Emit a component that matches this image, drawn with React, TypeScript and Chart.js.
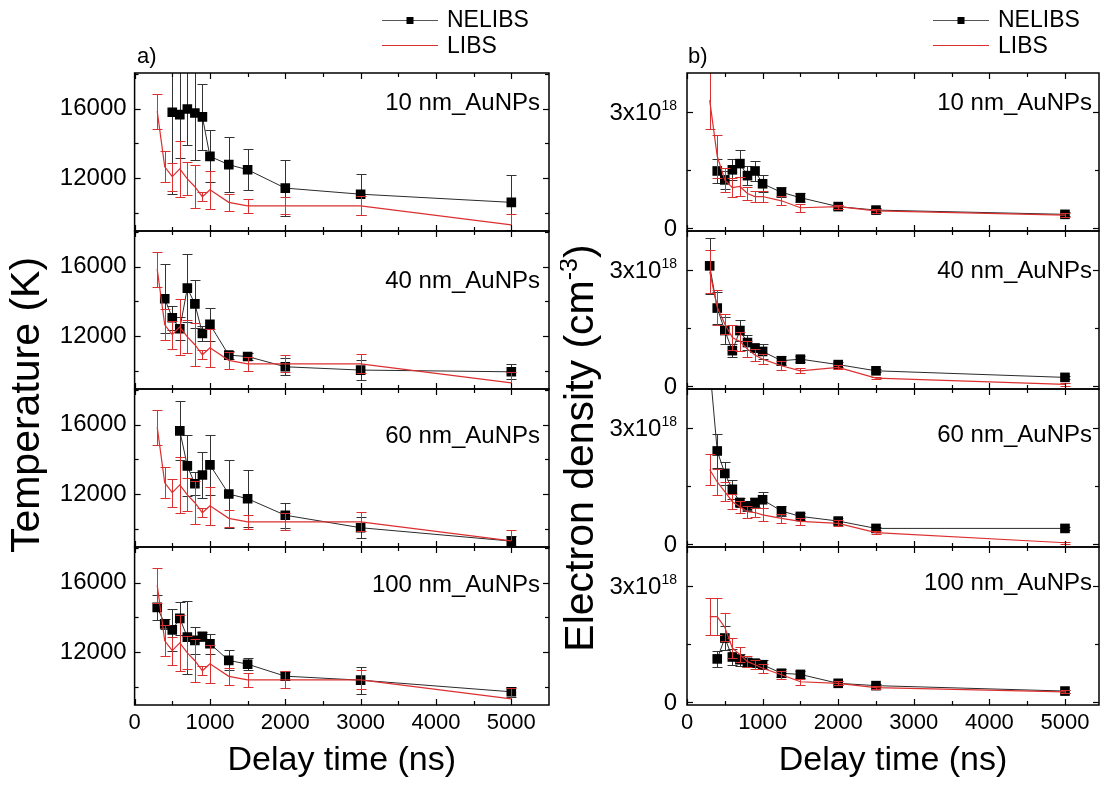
import React, { useEffect, useRef } from "react";
import { Chart, registerables } from "chart.js";

Chart.register(...registerables);

const FONT = "'Liberation Sans', Arial, Helvetica, sans-serif";
const RED = "#dc2f2f";
const DARK = "#2a2a2a";

// ---------- shared axis ticks ----------
const xTicks = [0, 1000, 2000, 3000, 4000, 5000];
const xMinorTicks = [500, 1500, 2500, 3500, 4500];
const tempTicks = [12000, 16000];
const tempMinorTicks = [10000, 14000, 18000];
const densTicks = [0, 3];
const densMinorTicks = [1.5];
const panelLabels = ["10 nm_AuNPs", "40 nm_AuNPs", "60 nm_AuNPs", "100 nm_AuNPs"];

// ---------- a) Temperature (K) ----------
const tLibsTime = [300, 400, 500, 600, 700, 800, 900, 1000, 1250, 1500, 2000, 3000, 5000];
const tLibs = [15850, 12650, 12080, 12530, 11950, 11500, 10920, 11320, 10600, 10400, 10400, 10400, 9300];
const tLibsErr = [1000, 900, 800, 1600, 950, 1250, 250, 1100, 500, 400, 480, 550, 650];

const t10Time = [500, 600, 700, 800, 900, 1000, 1250, 1500, 2000, 3000, 5000];
const t10 = [15790, 15650, 15980, 15750, 15520, 13250, 12770, 12480, 11420, 11070, 10600];
const t10Err = [4700, 2500, 2100, 2700, 1920, 1500, 1600, 1190, 1630, 1170, 1600];

const t40Time = [400, 500, 600, 700, 800, 900, 1000, 1250, 1500, 2000, 3000, 5000];
const t40 = [14150, 13050, 12420, 14760, 13850, 12150, 12670, 10900, 10820, 10230, 10040, 9940];
const t40Err = [2000, 690, 660, 1950, 1380, 450, 950, 250, 200, 480, 600, 430];

const t60Time = [600, 700, 800, 900, 1000, 1250, 1500, 2000, 3000, 5000];
const t60 = [15640, 13620, 12590, 13100, 13680, 12000, 11730, 10780, 10060, 9290];
const t60Err = [1700, 1760, 670, 1330, 1740, 1950, 1650, 720, 600, 300];

const t100Time = [300, 400, 500, 600, 700, 800, 900, 1000, 1250, 1500, 2000, 3000, 5000];
const t100 = [14570, 13620, 13280, 13940, 12860, 12670, 12900, 12480, 11520, 11300, 10610, 10380, 9710];
const t100Err = [700, 300, 1200, 950, 2100, 800, 270, 570, 570, 330, 240, 780, 290];

// ---------- b) Electron density (x10^18 cm^-3) ----------
const nTime = [300, 400, 500, 600, 700, 800, 900, 1000, 1250, 1500, 2000, 2500, 5000];
const nTimeLate = [400, 500, 600, 700, 800, 900, 1000, 1250, 1500, 2000, 2500, 5000];

const n10 = [1.47, 1.24, 1.5, 1.66, 1.35, 1.47, 1.14, 0.92, 0.78, 0.55, 0.46, 0.35];
const n10Err = [0.3, 0.23, 0.27, 0.34, 0.25, 0.27, 0.22, 0.13, 0.12, 0.05, 0.05, 0.05];
const n10Libs = [3.3, 1.85, 1.24, 1.04, 1.07, 0.89, 0.81, 0.81, 0.7, 0.52, 0.55, 0.44, 0.33];
const n10LibsErr = [0.75, 0.55, 0.3, 0.25, 0.25, 0.17, 0.15, 0.15, 0.12, 0.1, 0.05, 0.05, 0.05];

const n40 = [3.1, 2.01, 1.43, 0.91, 1.43, 1.12, 0.98, 0.89, 0.65, 0.69, 0.55, 0.39, 0.22];
const n40Err = [0.73, 0.41, 0.35, 0.17, 0.27, 0.2, 0.1, 0.2, 0.12, 0.08, 0.06, 0.04, 0.04];
const n40Libs = [2.95, 2.03, 1.6, 1.25, 1.15, 0.95, 0.8, 0.69, 0.52, 0.39, 0.48, 0.2, 0.04];
const n40LibsErr = [0.55, 0.45, 0.26, 0.33, 0.25, 0.2, 0.15, 0.13, 0.12, 0.06, 0.05, 0.03, 0.03];

const n60 = [4.6, 2.4, 1.82, 1.41, 1.07, 0.98, 1.07, 1.14, 0.85, 0.71, 0.59, 0.4, 0.4];
const n60Err = [0.5, 0.45, 0.3, 0.25, 0.12, 0.12, 0.12, 0.2, 0.12, 0.1, 0.07, 0.04, 0.04];
const n60Libs = [1.92, 1.6, 1.35, 1.09, 0.96, 0.83, 0.81, 0.75, 0.66, 0.58, 0.53, 0.29, 0.03];
const n60LibsErr = [0.4, 0.33, 0.25, 0.2, 0.15, 0.15, 0.12, 0.17, 0.12, 0.1, 0.08, 0.04, 0.03];

const n100 = [1.11, 1.65, 1.16, 1.09, 1.02, 1.0, 0.96, 0.74, 0.71, 0.48, 0.42, 0.28];
const n100Err = [0.2, 0.3, 0.2, 0.15, 0.12, 0.1, 0.12, 0.1, 0.1, 0.05, 0.04, 0.04];
const n100Libs = [2.2, 2.2, 1.93, 1.39, 1.22, 1.04, 0.96, 0.87, 0.7, 0.52, 0.48, 0.37, 0.26];
const n100LibsErr = [0.48, 0.48, 0.37, 0.26, 0.2, 0.15, 0.12, 0.12, 0.1, 0.08, 0.05, 0.04, 0.04];

// ---------- specs ----------
const leftSpec = {
  xMax: 5500,
  yMin: 8950,
  yMax: 18050,
  yTicks: tempTicks,
  yMinor: tempMinorTicks,
  yAxisWidth: 134.6,
  padRight: 11,
  nativeYLabels: true,
  letter: "a)",
  letterX: 137,
  labelRight: 540,
  labelDy: [37, 57, 54, 45],
  legend: { x1: 382, x2: 438, sq: 410, textX: 447, y1: 20, y2: 45 },
  yTitle: { x: 28, y: 405, text: "Temperature (K)", sup: "", tail: "" },
  rows: [
    { nelTime: t10Time, nel: t10, nelErr: t10Err, libsTime: tLibsTime, libs: tLibs, libsErr: tLibsErr },
    { nelTime: t40Time, nel: t40, nelErr: t40Err, libsTime: tLibsTime, libs: tLibs, libsErr: tLibsErr },
    { nelTime: t60Time, nel: t60, nelErr: t60Err, libsTime: tLibsTime, libs: tLibs, libsErr: tLibsErr },
    { nelTime: t100Time, nel: t100, nelErr: t100Err, libsTime: tLibsTime, libs: tLibs, libsErr: tLibsErr },
  ],
};

const rightSpec = {
  xMax: 5450,
  yMin: -0.08,
  yMax: 4.0,
  yTicks: densTicks,
  yMinor: densMinorTicks,
  yAxisWidth: 127,
  padRight: 12,
  nativeYLabels: false,
  letter: "b)",
  letterX: 128,
  labelRight: 532,
  labelDy: [37, 47, 53, 43],
  legend: { x1: 373, x2: 429, sq: 401, textX: 438, y1: 20, y2: 45 },
  yTitle: { x: 22, y: 448, text: "Electron density (cm", sup: "-3", tail: ")" },
  rows: [
    { nelTime: nTimeLate, nel: n10, nelErr: n10Err, libsTime: nTime, libs: n10Libs, libsErr: n10LibsErr },
    { nelTime: nTime, nel: n40, nelErr: n40Err, libsTime: nTime, libs: n40Libs, libsErr: n40LibsErr },
    { nelTime: nTime, nel: n60, nelErr: n60Err, libsTime: nTime, libs: n60Libs, libsErr: n60LibsErr },
    { nelTime: nTimeLate, nel: n100, nelErr: n100Err, libsTime: nTime, libs: n100Libs, libsErr: n100LibsErr },
  ],
};

const toXY = (xs: number[], ys: number[]) => xs.map((x, i) => ({ x, y: ys[i] }));

// ---------- plugins ----------
const errorBarPlugin = {
  id: "errorBars",
  beforeDatasetDraw(chart: any, args: any) {
    const ds = chart.data.datasets[args.index];
    const errs: number[] | undefined = ds.errorBars;
    if (!errs) return;
    const meta = args.meta;
    const xs = meta.xScale;
    const ys = meta.yScale;
    const a = chart.chartArea;
    const ctx = chart.ctx;
    ctx.save();
    ctx.beginPath();
    ctx.rect(a.left, ys.top, a.right - a.left, ys.bottom - ys.top);
    ctx.clip();
    ctx.strokeStyle = ds.errorColor;
    ctx.lineWidth = 1;
    const cap = 5;
    ds.data.forEach((p: any, i: number) => {
      const e = errs[i];
      const x = Math.round(xs.getPixelForValue(p.x)) + 0.5;
      const y1 = Math.round(ys.getPixelForValue(p.y + e)) + 0.5;
      const y2 = Math.round(ys.getPixelForValue(p.y - e)) + 0.5;
      ctx.beginPath();
      ctx.moveTo(x, y1);
      ctx.lineTo(x, y2);
      ctx.moveTo(x - cap, y1);
      ctx.lineTo(x + cap, y1);
      ctx.moveTo(x - cap, y2);
      ctx.lineTo(x + cap, y2);
      ctx.stroke();
    });
    ctx.restore();
  },
};

function makeDecoPlugin(spec: any) {
  return {
    id: "deco",
    afterDatasetsDraw(chart: any) {
      const ctx = chart.ctx;
      const a = chart.chartArea;
      const xs = chart.scales.x;
      ctx.save();
      const line = (x1: number, y1: number, x2: number, y2: number) => {
        ctx.beginPath();
        ctx.moveTo(x1, y1);
        ctx.lineTo(x2, y2);
        ctx.stroke();
      };
      spec.rows.forEach((row: any, k: number) => {
        const ys = chart.scales["y" + k];
        const top = ys.top;
        const bot = ys.bottom;
        ctx.strokeStyle = "#000";
        ctx.lineWidth = 1.2;
        xTicks.forEach((v) => {
          const x = Math.round(xs.getPixelForValue(v)) + 0.5;
          line(x, bot, x, bot - 6);
          line(x, top, x, top + 6);
        });
        xMinorTicks.forEach((v) => {
          if (v > spec.xMax) return;
          const x = Math.round(xs.getPixelForValue(v)) + 0.5;
          line(x, bot, x, bot - 4);
          line(x, top, x, top + 4);
        });
        spec.yTicks.forEach((v: number) => {
          const y = Math.round(ys.getPixelForValue(v)) + 0.5;
          if (y < top || y > bot) return;
          line(a.left, y, a.left + 6, y);
          line(a.right, y, a.right - 6, y);
        });
        spec.yMinor.forEach((v: number) => {
          const y = Math.round(ys.getPixelForValue(v)) + 0.5;
          if (y < top + 1 || y > bot - 1) return;
          line(a.left, y, a.left + 4, y);
          line(a.right, y, a.right - 4, y);
        });
        ctx.lineWidth = 1.5;
        ctx.strokeRect(a.left, top, a.right - a.left, bot - top);

        ctx.fillStyle = "#000";
        ctx.font = `24px ${FONT}`;
        ctx.textAlign = "right";
        ctx.textBaseline = "alphabetic";
        ctx.fillText(panelLabels[k], spec.labelRight, top + spec.labelDy[k]);

        if (!spec.nativeYLabels) {
          const lx = a.left - 10;
          spec.yTicks.forEach((v: number) => {
            const y = ys.getPixelForValue(v);
            if (v === 0) {
              ctx.font = `24px ${FONT}`;
              ctx.textAlign = "right";
              ctx.textBaseline = "middle";
              ctx.fillText("0", lx, y + 1);
            } else {
              ctx.font = `14px ${FONT}`;
              const supW = ctx.measureText("18").width;
              ctx.font = `24px ${FONT}`;
              ctx.textAlign = "right";
              ctx.textBaseline = "middle";
              ctx.fillText(`${v}x10`, lx - supW, y + 2);
              ctx.font = `14px ${FONT}`;
              ctx.textBaseline = "alphabetic";
              ctx.fillText("18", lx, y - 2);
            }
          });
        }
      });

      // legend
      const L = spec.legend;
      ctx.lineWidth = 1;
      ctx.strokeStyle = "#555";
      line(L.x1, L.y1 + 0.5, L.x2, L.y1 + 0.5);
      ctx.fillStyle = "#000";
      ctx.fillRect(L.sq - 3.5, L.y1 - 3, 7, 7);
      ctx.strokeStyle = RED;
      line(L.x1, L.y2 + 0.5, L.x2, L.y2 + 0.5);
      ctx.font = `23px ${FONT}`;
      ctx.textAlign = "left";
      ctx.textBaseline = "middle";
      ctx.fillText("NELIBS", L.textX, L.y1 + 1);
      ctx.fillText("LIBS", L.textX, L.y2 + 2);

      // panel letter
      ctx.font = `22px ${FONT}`;
      ctx.fillText(spec.letter, spec.letterX, 57);

      // y title
      const T = spec.yTitle;
      ctx.save();
      ctx.translate(T.x, T.y);
      ctx.rotate(-Math.PI / 2);
      ctx.font = `41px ${FONT}`;
      const w1 = ctx.measureText(T.text).width;
      const w3 = ctx.measureText(T.tail).width;
      ctx.font = `25px ${FONT}`;
      const w2 = T.sup ? ctx.measureText(T.sup).width : 0;
      const total = w1 + w2 + w3;
      let px = -total / 2;
      ctx.textAlign = "left";
      ctx.textBaseline = "middle";
      ctx.font = `41px ${FONT}`;
      ctx.fillText(T.text, px, 0);
      px += w1;
      if (T.sup) {
        ctx.font = `25px ${FONT}`;
        ctx.fillText(T.sup, px, -12);
        px += w2;
        ctx.font = `41px ${FONT}`;
        ctx.fillText(T.tail, px, 0);
      }
      ctx.restore();
      ctx.restore();
    },
  };
}

function buildConfig(spec: any): any {
  const scales: any = {
    x: {
      type: "linear",
      position: "bottom",
      min: 0,
      max: spec.xMax,
      grid: { display: false, drawTicks: false },
      border: { display: false },
      ticks: {
        font: { family: FONT, size: 22 },
        color: "#000",
        padding: 5,
        maxRotation: 0,
        autoSkip: false,
        callback: (v: any) => String(v),
      },
      afterBuildTicks: (s: any) => {
        s.ticks = xTicks.map((v) => ({ value: v }));
      },
      afterFit: (s: any) => {
        s.height = 80;
      },
      title: {
        display: true,
        text: "Delay time (ns)",
        color: "#000",
        font: { family: FONT, size: 34 },
        padding: { top: 0, bottom: 4 },
      },
    },
  };
  const datasets: any[] = [];
  spec.rows.forEach((row: any, k: number) => {
    scales["y" + k] = {
      type: "linear",
      position: "left",
      stack: "col",
      stackWeight: 1,
      weight: 4 - k,
      min: spec.yMin,
      max: spec.yMax,
      grid: { display: false, drawTicks: false },
      border: { display: false },
      ticks: {
        display: spec.nativeYLabels,
        font: { family: FONT, size: 24 },
        color: "#000",
        padding: 8,
        callback: (v: any) => String(v),
      },
      afterBuildTicks: (s: any) => {
        s.ticks = spec.yTicks.map((v: number) => ({ value: v }));
      },
      afterFit: (s: any) => {
        s.width = spec.yAxisWidth;
      },
    };
    datasets.push({
      label: "NELIBS",
      data: toXY(row.nelTime, row.nel),
      errorBars: row.nelErr,
      errorColor: "#333",
      xAxisID: "x",
      yAxisID: "y" + k,
      borderColor: DARK,
      borderWidth: 1,
      backgroundColor: "#000",
      pointStyle: "rect",
      pointRadius: 6.8,
      pointBorderWidth: 0,
      pointBackgroundColor: "#000",
      tension: 0,
      order: 1,
    });
    datasets.push({
      label: "LIBS",
      data: toXY(row.libsTime, row.libs),
      errorBars: row.libsErr,
      errorColor: RED,
      xAxisID: "x",
      yAxisID: "y" + k,
      borderColor: RED,
      borderWidth: 1.2,
      pointRadius: 0,
      tension: 0,
      order: 0,
    });
  });
  return {
    type: "line",
    data: { datasets },
    options: {
      responsive: true,
      maintainAspectRatio: false,
      animation: false,
      devicePixelRatio: 1,
      events: [],
      layout: { padding: { top: 73, right: spec.padRight, left: 0, bottom: 0 } },
      plugins: { legend: { display: false }, tooltip: { enabled: false } },
      scales,
    },
    plugins: [errorBarPlugin, makeDecoPlugin(spec)],
  };
}

export default function App() {
  const leftRef = useRef<HTMLCanvasElement>(null);
  const rightRef = useRef<HTMLCanvasElement>(null);
  useEffect(() => {
    Chart.defaults.font.family = FONT;
    Chart.defaults.color = "#000";
    const c1 = new Chart(leftRef.current as HTMLCanvasElement, buildConfig(leftSpec));
    const c2 = new Chart(rightRef.current as HTMLCanvasElement, buildConfig(rightSpec));
    return () => {
      c1.destroy();
      c2.destroy();
    };
  }, []);
  return (
    <div style={{ position: "absolute", left: 0, top: 0, width: 1111, height: 785, background: "#fff", overflow: "hidden" }}>
      <div style={{ position: "absolute", left: 0, top: 0, width: 560, height: 785 }}>
        <canvas ref={leftRef} />
      </div>
      <div style={{ position: "absolute", left: 560, top: 0, width: 551, height: 785 }}>
        <canvas ref={rightRef} />
      </div>
    </div>
  );
}
